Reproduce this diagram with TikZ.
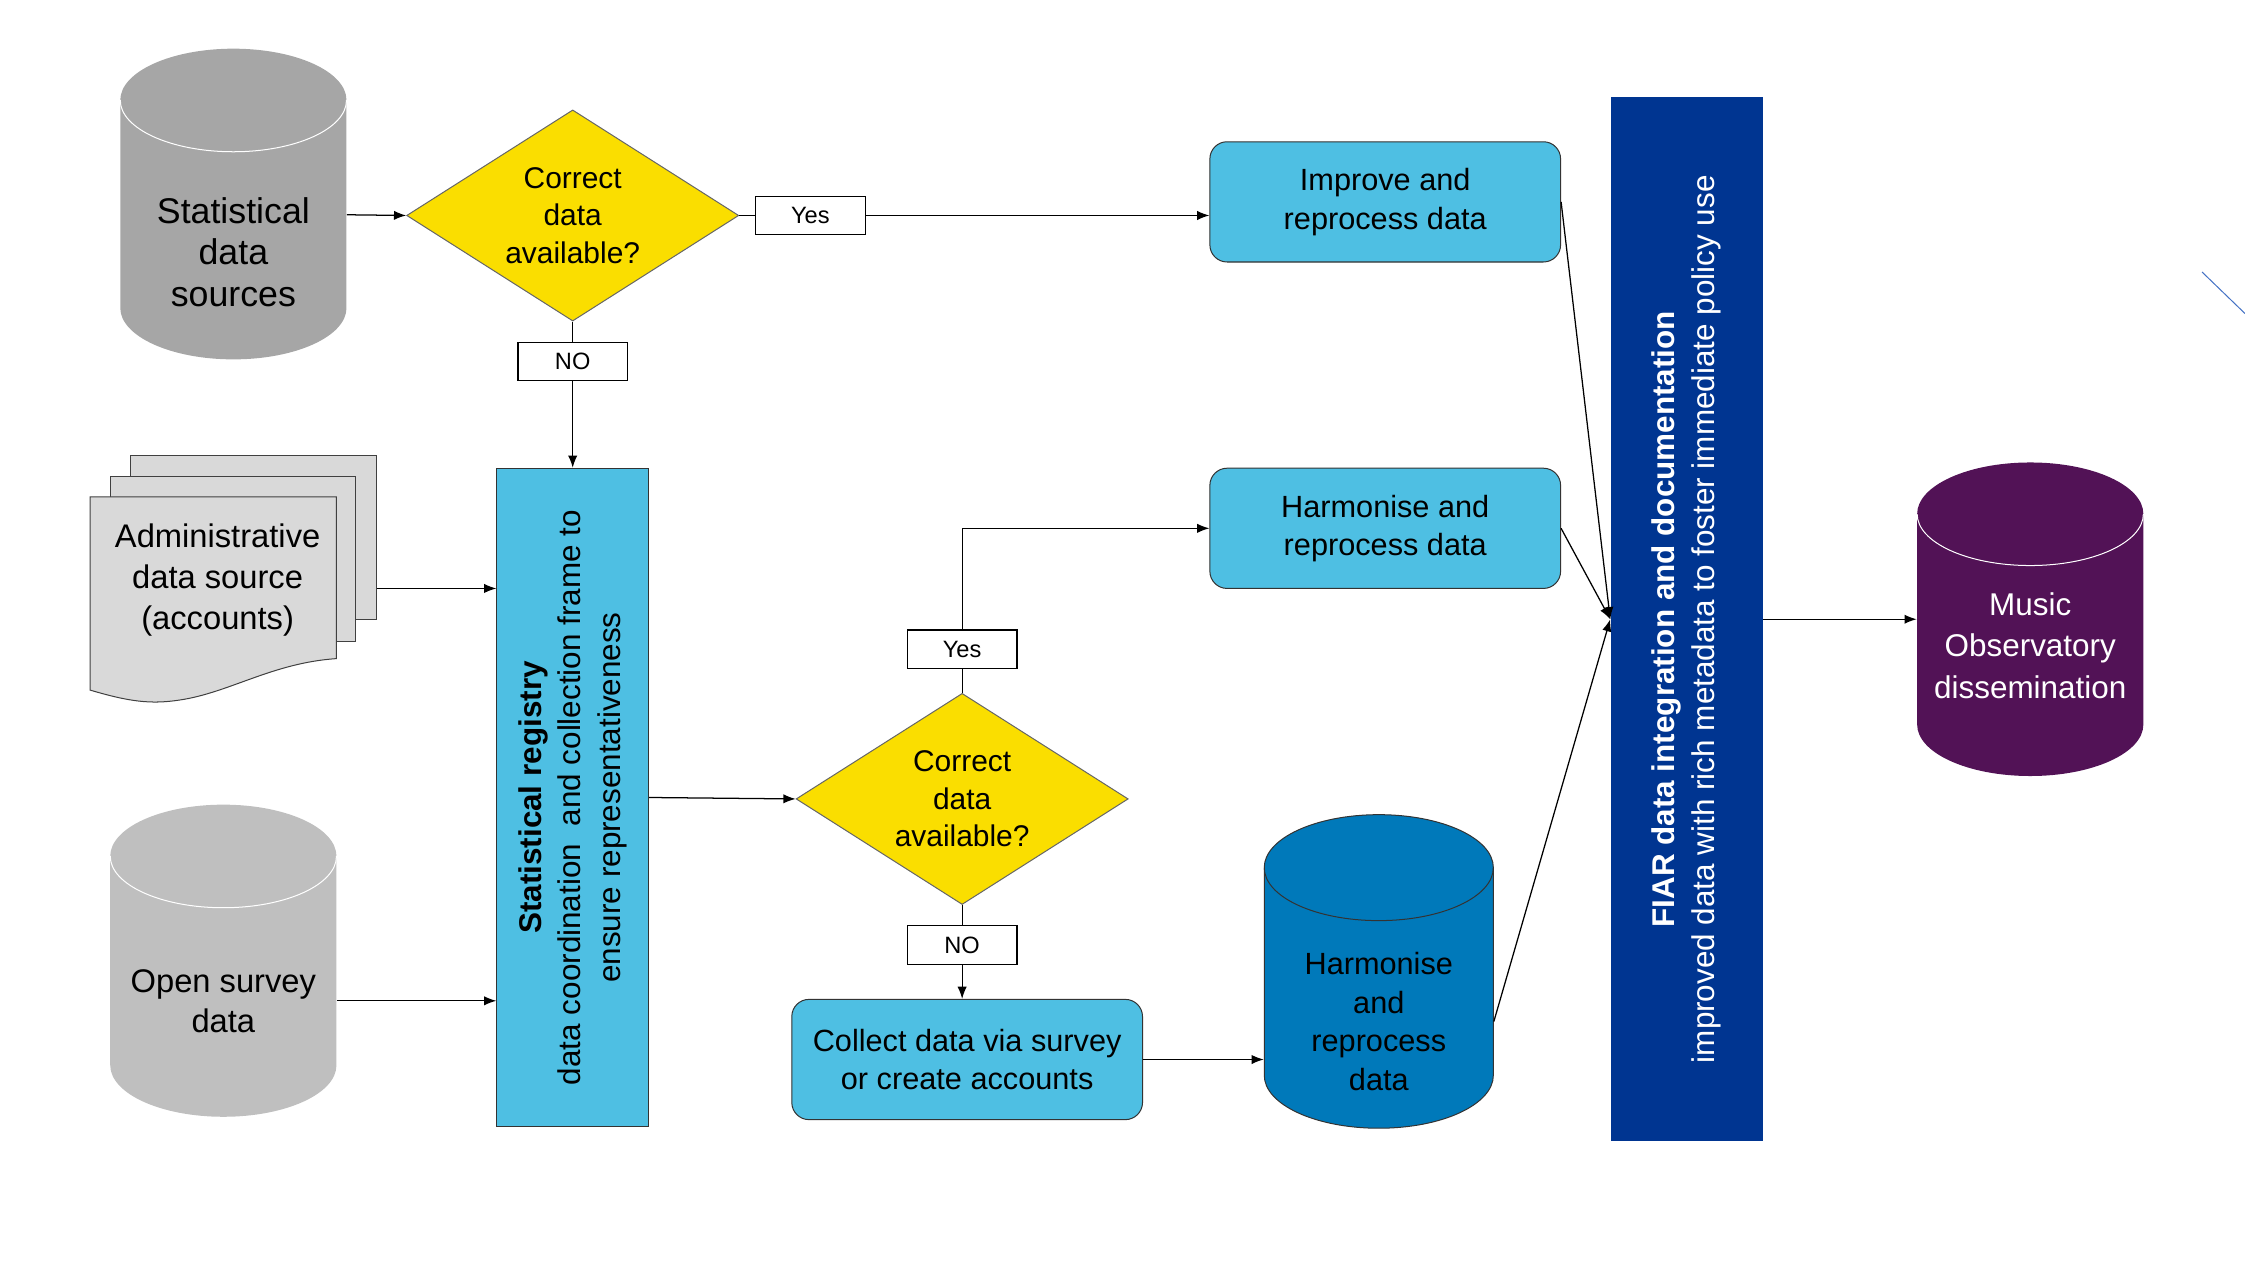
\documentclass[tikz,border=0pt]{standalone}
\usepackage{fontspec}
\setmainfont{Liberation Sans}
\usepackage{graphicx}
\usepackage{tikz}
\usetikzlibrary{shapes.geometric,arrows.meta}
\usepackage{xcolor}
\definecolor{statgray}{HTML}{A6A6A6}
\definecolor{opengray}{HTML}{BFBFBF}
\definecolor{pagegray}{HTML}{D9D9D9}
\definecolor{skyblue}{HTML}{4EBFE3}
\definecolor{midblue}{HTML}{0079BA}
\definecolor{navyblue}{HTML}{003591}
\definecolor{plum}{HTML}{521256}
\definecolor{askyellow}{HTML}{FADE00}
\definecolor{strayblue}{HTML}{4472C4}

\newcommand{\drum}[7]{%
  \path[#6] (#1-#4,#2+#5) -- (#1-#4,#3-#5) arc[start angle=180,end angle=0,x radius=#4,y radius=#5]
    -- (#1+#4,#2+#5) arc[start angle=0,end angle=-180,x radius=#4,y radius=#5] -- cycle;
  \draw[#7,line width=0.4pt] (#1-#4,#2+#5) arc[start angle=180,end angle=0,x radius=#4,y radius=#5];
}

\begin{document}
\begin{tikzpicture}[x=0.02cm,y=-0.02cm,>={Latex[length=1.7mm,width=1.3mm]},
    every node/.style={inner sep=0pt,align=center},
    flow/.style={->,line width=0.5pt},
    link/.style={line width=0.5pt},
    page/.style={fill=pagegray,draw=black!75,line width=0.4pt},
    tag/.style={draw,line width=0.5pt,fill=white,minimum width=1.53cm,minimum height=0.54cm,font=\fontsize{9.4}{11}\selectfont},
    ask/.style={diamond,aspect=1.58,draw=black!60,line width=0.4pt,fill=askyellow,minimum width=4.64cm,minimum height=2.95cm,font=\fontsize{11.9}{15}\selectfont},
    task/.style={rectangle,rounded corners=0.24cm,draw=black!80,line width=0.4pt,fill=skyblue,minimum width=4.9cm,minimum height=1.68cm,font=\fontsize{12.2}{15.3}\selectfont},
    band/.style={rectangle,minimum width=2.12cm}]
    \useasboundingbox (0,0) rectangle (1568,882);

    \drum{163}{34}{251}{79}{36}{fill=statgray}{white}
    \drum{156}{562}{780}{79}{36}{fill=opengray}{white}
    \drum{963}{569}{788}{80}{37}{fill=midblue,draw=black!80,line width=0.4pt}{black!80}
    \drum{1418}{323}{542}{79}{36}{fill=plum}{white}

    \draw[page] (91,318) rectangle (263,433);
    \draw[page] (77,333) rectangle (248,448);
    \draw[page] (63,347) -- (235,347) -- (235,460) .. controls (190,463) and (160,484) .. (125,489) .. controls (105,492) and (90,490) .. (63,482) -- cycle;

    \node[minimum width=3.16cm,font=\fontsize{14.2}{16.4}\selectfont] (statsrc) at (163,176) {Statistical\\data\\sources};
    \node[ask] (ask1) at (400,150.5) {Correct\\data\\available?};
    \node[tag] (yes1) at (566,150.5) {Yes};
    \node[tag] (no1) at (400,252.5) {NO};
    \node[task] (improve) at (967.5,141) {Improve and\\reprocess data};
    \node[task] (harmbox) at (967.5,369) {Harmonise and\\reprocess data};

    \node[minimum width=3.44cm,font=\fontsize{13}{16.4}\selectfont] (admin) at (152,405) {Administrative\\data source\\(accounts)};
    \coordinate (adminout) at (263,411);
    \node[minimum width=3.16cm,font=\fontsize{13}{15.9}\selectfont] (opensurvey) at (156,699) {Open survey\\data};

    \node[band,fill=skyblue,draw=black!80,line width=0.4pt,minimum height=9.2cm] (registry) at (400,557)
        {\rotatebox{90}{\parbox{9cm}{\centering\fontsize{12.5}{15.6}\selectfont\textbf{Statistical registry}\\data coordination~ and collection frame to\\ensure representativeness}}};

    \node[ask] (ask2) at (672,558) {Correct\\data\\available?};
    \node[tag] (yes2) at (672,453.5) {Yes};
    \node[tag] (no2) at (672,660) {NO};
    \node[task] (collect) at (675.5,740) {Collect data via survey\\or create accounts};
    \node[minimum width=3.2cm,font=\fontsize{12.2}{15.3}\selectfont] (harmcyl) at (963,713.5) {Harmonise\\and\\reprocess\\data};

    \node[band,fill=navyblue,text=white,minimum height=14.58cm] (fiar) at (1178,432.5)
        {\rotatebox{90}{\parbox{14.4cm}{\centering\fontsize{12.5}{15.9}\selectfont\textbf{FIAR data integration and documentation}\\improved data with rich metadata to foster immediate policy use}}};
    \node[minimum width=3.16cm,text=white,font=\fontsize{12.5}{16.4}\selectfont] (music) at (1418,451) {Music\\Observatory\\dissemination};

    \draw[flow] ([yshift=0.52cm]statsrc.east) -- (ask1.west);
    \draw[link] (ask1.east) -- (yes1.west);
    \draw[flow] (yes1.east) -- (yes1.east -| improve.west);
    \draw[link] (ask1.south) -- (no1.north);
    \draw[flow] (no1.south) -- (registry.north);
    \draw[flow] (adminout) -- (adminout -| registry.west);
    \draw[flow] (opensurvey.east) -- (opensurvey.east -| registry.west);
    \draw[flow] (registry.east) -- (ask2.west);
    \draw[link] (ask2.north) -- (yes2.south);
    \draw[flow] (yes2.north) |- (harmbox.west);
    \draw[link] (ask2.south) -- (no2.north);
    \draw[flow] (no2.south) -- (no2.south |- collect.north);
    \draw[flow] (collect.east) -- (collect.east -| harmcyl.west);
    \draw[flow] (improve.east) -- (fiar.west);
    \draw[flow] (harmbox.east) -- (fiar.west);
    \draw[flow] (harmcyl.east) -- (fiar.west);
    \draw[flow] (fiar.east) -- (fiar.east -| music.west);
    \draw[strayblue,line width=0.4pt] (1538,190) -- (1568,219);
\end{tikzpicture}
\end{document}
